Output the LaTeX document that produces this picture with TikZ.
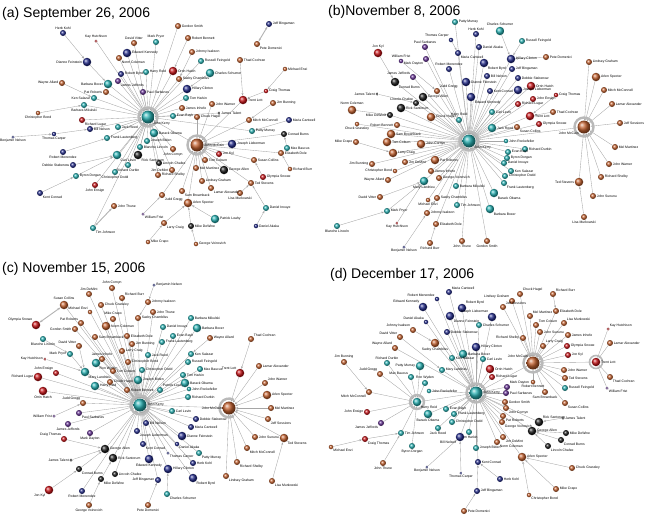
\documentclass[tikz,border=0pt]{standalone}
\usepackage{fontspec}
\setmainfont{Liberation Sans}
\usetikzlibrary{arrows.meta}
\definecolor{senT}{RGB}{40,176,178}
\definecolor{senB}{RGB}{38,46,140}
\definecolor{senO}{RGB}{196,98,48}
\definecolor{senR}{RGB}{200,22,26}
\definecolor{senP}{RGB}{104,52,150}
\definecolor{senK}{RGB}{30,30,30}
\pgfdeclarelayer{bg}
\pgfdeclarelayer{mid}
\pgfsetlayers{bg,mid,main}
\tikzset{
  sen/.style={circle, inner sep=0pt, shading=ball},
  cT/.style={ball color=senT}, cB/.style={ball color=senB},
  cO/.style={ball color=senO}, cR/.style={ball color=senR},
  cP/.style={ball color=senP}, cK/.style={ball color=senK},
  z0/.style={minimum size=3pt}, z1/.style={minimum size=4.5pt},
  z2/.style={minimum size=6pt}, z3/.style={minimum size=8.5pt},
  z4/.style={minimum size=13pt},
  lbl/.style={font=\fontsize{3.4}{4}\selectfont, inner sep=0.4pt, text=black},
  spk/.style={draw=gray!70, line width=0.35pt, -{Stealth[length=2.6pt,width=2pt]}},
  dbl/.style={draw=gray!60, line width=0.9pt, {Stealth[length=3pt,width=2.4pt]}-{Stealth[length=3pt,width=2.4pt]}},
  ring/.style={draw=gray!55, line width=2.4pt},
  title/.style={font=\fontsize{14}{16}\selectfont, anchor=base west, inner sep=0pt}
}
\begin{document}
\begin{tikzpicture}[x=1pt,y=-1pt]
\useasboundingbox (0,0) rectangle (648,520);

% panel titles
\node[title] (ta) at (2,17) {(a) September 26, 2006};
\node[title] (tb) at (328,15) {(b)November 8, 2006};
\node[title] (tc) at (2,272) {(c) November 15, 2006};
\node[title] (td) at (330,278) {(d) December 17, 2006};

% (a) senators
\foreach \nm/\xx/\yy/\col/\sz/\txt/\lp in {
aK/148/117/cT/z4/John Kerry/below right, aM/197/145/cO/z4/John McCain/right,
aHK/63/33/cB/z2/Herb Kohl/above, aKH/96/41/cR/z0/Kay Hutchison/above,
aDV/134/43/cO/z2/David Vitter/above, aMP/156/42/cT/z2/Mark Pryor/above,
aEK/127/53/cB/z3/Edward Kennedy/right, aNC/119/58/cO/z2/Norm Coleman/below right,
aDF/87/62/cB/z3/Dianne Feinstein/left, aHR/146/72/cT/z2/Harry Reid/right,
aRB/121/74/cB/z2/Robert Byrd/right, aBB/108/84/cT/z3/Barbara Boxer/left,
aJJ/118/81/cP/z2/James Jeffords/below right, aWA/62/83/cO/z2/Wayne Allard/left,
aPR/106/92/cO/z2/Pat Roberts/left, aPS/143/92/cP/z2/Paul Sarbanes/right,
aKS/94/98/cT/z2/Ken Salazar/left, aBM/84/105/cT/z2/Barbara Mikulski/below,
aCB/38/113/cO/z1/Christopher Bond/below, aRL/82/120/cR/z2/Richard Lugar/below right,
aBN/13/137/cB/z0/Benjamin Nelson/below, aTC/54/134/cB/z1/Thomas Carper/below,
aBiN/90/129/cB/z2/Bill Nelson/right, aJR/118/127/cT/z2/Jack Reed/right,
aFL/107/138/cT/z2/Frank Lautenberg/right, aBO/154/133/cT/z3/Barack Obama/right,
aJBi/147/141/cT/z2/Joseph Biden/right, aBL/140/147/cT/z2/Blanche Lincoln/right,
aRM/63/152/cB/z2/Robert Menendez/below, aRS/138/155/cK/z3/Rick Santorum/below right,
aCL/117/155/cT/z3/Carl Levin/below right, aDS/73/165/cB/z2/Debbie Stabenow/left,
aRD/128/165/cT/z2/Richard Durbin/below, aCD/115/172/cT/z2/Christopher Dodd/below,
aLC/159/163/cK/z2/Lincoln Chafee/right, aBD/76/176/cT/z2/Byron Dorgan/right,
aJE/95/185/cR/z2/John Ensign/below, aKC/40/193/cB/z2/Kent Conrad/below right,
aJG/162/195/cO/z2/Judd Gregg/below right, aRSh/158/175/cO/z2/Richard Shelby/right,
aJT/114/206/cO/z2/John Thune/right, aTJ/93/228/cT/z2/Tim Johnson/below right,
aWF/143/214/cP/z0/William Frist/below right, aLCr/164/223/cO/z2/Larry Craig/below right,
aMC/148/242/cO/z1/Mike Crapo/right, aGS/178/26/cO/z2/Gordon Smith/right,
aJBn/269/24/cB/z2/Jeff Bingaman/right, aPD/257/44/cO/z2/Pete Domenici/below right,
aRBe/188/38/cO/z2/Robert Bennett/right, aJI/192/52/cO/z2/Johnny Isakson/right,
aRF/201/61/cT/z2/Russell Feingold/right, aCS/210/73/cT/z3/Charles Schumer/right,
aOH/173/71/cR/z3/Orrin Hatch/right, aSC/179/79/cO/z2/Saxby Chambliss/right,
aHC/187/89/cB/z3/Hillary Clinton/right, aTH/186/98/cT/z2/Tom Harkin/right,
aThC/240/60/cO/z2/Thad Cochran/right, aTL/243/100/cR/z3/Trent Lott/right,
aME/285/69/cO/z1/Michael Enzi/right, aCT/266/91/cR/z1/Craig Thomas/right,
aJBu/273/103/cO/z2/Jim Bunning/right, aMM/249/120/cO/z2/Mitch McConnell/right,
aMCa/289/120/cB/z2/Maria Cantwell/right, aJW/212/104/cO/z2/John Warner/right,
aJIn/182/108/cO/z2/James Inhofe/right, aJTa/219/113/cK/z0/James Talent/right,
aEB/173/116/cT/z2/Evan Bayh/right, aCH/197/117/cO/z2/Chuck Hagel/right,
aJL/232/144/cB/z3/Joseph Lieberman/right, aCBu/284/134/cK/z2/Conrad Burns/right,
aPM/252/131/cT/z2/Patty Murray/right, aMB/287/148/cT/z2/Max Baucus/right,
aED/281/153/cO/z2/Elizabeth Dole/right, aRBu/290/169/cO/z1/Richard Burr/right,
aJK/219/154/cR/z2/Jon Kyl/right, aSCo/254/160/cO/z2/Susan Collins/right,
aOS/263/177/cR/z2/Olympia Snowe/right, aTS/251/183/cO/z2/Ted Stevens/right,
aLM/240/193/cO/z2/Lisa Murkowski/below, aDI/266/208/cT/z2/Daniel Inouye/right,
aDA/256/226/cB/z1/Daniel Akaka/right, aGA/224/170/cK/z3/George Allen/right,
aTCo/205/160/cO/z2/Tom Coburn/right, aMMa/196/168/cO/z2/Mel Martinez/right,
aLG/202/181/cO/z2/Lindsey Graham/right, aLA/211/188/cO/z2/Lamar Alexander/below right,
aSB/182/191/cO/z2/Sam Brownback/below right, aAS/188/203/cO/z3/Arlen Specter/right,
aPL/215/219/cT/z3/Patrick Leahy/right, aMD/191/226/cK/z2/Mike DeWine/right,
aGV/196/244/cO/z1/George Voinovich/right, aJCo/173/149/cO/z2/John Cornyn/below,
aJDM/172/170/cO/z2/Jim DeMint/left}
  \node[sen,\col,\sz,label={[lbl]\lp:\txt}] (\nm) at (\xx,\yy) {};

% (b) senators
\foreach \nm/\xx/\yy/\col/\sz/\txt/\lp in {
bK/469/141/cT/z4/John Kerry/below right, bM/584/127/cO/z4/John McCain/below left,
bPM/455/22/cT/z2/Patty Murray/right, bHK/476/34/cB/z2/Herb Kohl/above,
bTC/451/40/cB/z1/Thomas Carper/above left, bDA/479/47/cB/z2/Daniel Akaka/right,
bPS/425/47/cP/z2/Paul Sarbanes/above, bJK/378/53/cR/z3/Jon Kyl/above,
bMC/458/53/cB/z2/Maria Cantwell/below right, bWF/401/61/cP/z1/William Frist/above,
bMD/426/59/cP/z2/Mark Dayton/below left, bRM/449/69/cB/z2/Robert Menendez/above,
bRB/484/63/cB/z3/Robert Byrd/below right, bJJ/413/77/cP/z2/James Jeffords/above left,
bDF/466/82/cB/z3/Dianne Feinstein/right, bBiN/487/76/cB/z2/Bill Nelson/right,
bJG/437/91/cO/z2/Judd Gregg/above right, bKC/490/91/cB/z2/Kent Conrad/right,
bCB/395/82/cK/z3/Conrad Burns/below right, bGA/423/97/cK/z3/George Allen/right,
bEK/471/97/cB/z3/Edward Kennedy/below right, bJT/377/94/cK/z0/James Talent/left,
bLC/416/103/cK/z2/Lincoln Chafee/above left, bRS/401/108/cK/z3/Rick Santorum/right,
bMDW/390/115/cK/z2/Mike DeWine/left, bNC/352/110/cO/z3/Norm Coleman/above,
bCL/492/112/cT/z2/Carl Levin/right, bCH/431/117/cO/z3/Chuck Hagel/right,
bHR/459/120/cT/z2/Harry Reid/above, bRBe/397/125/cO/z2/Robert Bennett/left,
bCG/357/124/cO/z1/Chuck Grassley/below, bJRe/492/128/cT/z3/Jack Reed/right,
bCS/500/31/cT/z3/Charles Schumer/above, bRF/522/41/cT/z2/Russell Feingold/right,
bHC/511/59/cB/z3/Hillary Clinton/right, bPD/546/57/cO/z2/Pete Domenici/right,
bJB/512/69/cB/z2/Jeff Bingaman/right, bDS/518/78/cB/z2/Debbie Stabenow/right,
bOH/531/86/cR/z3/Orrin Hatch/right, bJL/518/90/cB/z3/Joseph Lieberman/right,
bCT/556/95/cR/z1/Craig Thomas/right, bJE/533/99/cR/z2/John Ensign/right,
bRL/518/104/cR/z2/Richard Lugar/right, bTL/530/116/cR/z3/Trent Lott/right,
bTCo/553/112/cO/z2/Thad Cochran/right, bOS/539/124/cR/z2/Olympia Snowe/right,
bLG/589/62/cO/z2/Lindsey Graham/right, bAS/596/77/cO/z3/Arlen Specter/right,
bMM/604/90/cO/z2/Mitch McConnell/right, bLA/612/104/cO/z2/Lamar Alexander/right,
bJS/620/123/cO/z2/Jeff Sessions/right, bSB/391/134/cO/z3/Sam Brownback/right,
bMCr/356/142/cO/z2/Mike Crapo/left, bTCb/387/142/cO/z3/Tom Coburn/right,
bJC/421/144/cO/z3/John Cornyn/right, bLCr/393/153/cO/z3/Larry Craig/right,
bJBu/372/164/cO/z2/Jim Bunning/left, bJD/405/162/cO/z2/Jim DeMint/right,
bPR/435/160/cO/z3/Pat Roberts/right, bCBo/395/171/cO/z1/Christopher Bond/left,
bWA/388/180/cO/z2/Wayne Allard/left, bJIn/431/171/cO/z2/James Inhofe/right,
bML/424/181/cT/z3/Mary Landrieu/below, bGV/439/178/cO/z2/George Voinovich/right,
bDV/380/197/cO/z2/David Vitter/left, bBM/456/186/cT/z2/Barbara Mikulski/right,
bSC/437/198/cO/z2/Saxby Chambliss/right, bME/428/200/cO/z1/Michael Enzi/below,
bTJ/457/205/cT/z2/Tim Johnson/right, bMP/387/211/cT/z2/Mark Pryor/right,
bBL/337/226/cT/z2/Blanche Lincoln/below, bKH/397/223/cR/z0/Kay Hutchison/below,
bJI/427/213/cO/z2/Johnny Isakson/right, bED/436/224/cO/z2/Elizabeth Dole/right,
bBeN/404/247/cB/z0/Benjamin Nelson/below, bRBu/430/243/cO/z2/Richard Burr/below,
bJTh/462/241/cO/z2/John Thune/below, bGS/487/241/cO/z2/Gordon Smith/below,
bBB/490/209/cT/z3/Barbara Boxer/below right, bSCo/517/127/cO/z2/Susan Collins/below right,
bJR/506/141/cT/z1/John Rockefeller/right, bRD/525/149/cT/z2/Richard Durbin/right,
bEB/508/152/cT/z2/Evan Bayh/right, bBD/507/158/cT/z2/Byron Dorgan/right,
bDI/504/163/cT/z2/Daniel Inouye/right, bKS/511/171/cT/z2/Ken Salazar/right,
bCD/505/176/cT/z2/Christopher Dodd/right, bFL/504/183/cT/z2/Frank Lautenberg/below right,
bBO/494/193/cT/z3/Barack Obama/below right, bMMa/615/147/cO/z2/Mel Martinez/right,
bJW/609/164/cO/z2/John Warner/right, bRSh/601/177/cO/z2/Richard Shelby/right,
bTS/579/182/cO/z3/Ted Stevens/left, bJSu/593/196/cO/z2/John Sununu/right,
bLM/584/217/cO/z2/Lisa Murkowski/below}
  \node[sen,\col,\sz,label={[lbl]\lp:\txt}] (\nm) at (\xx,\yy) {};

% (c) senators
\foreach \nm/\xx/\yy/\col/\sz/\txt/\lp in {
cK/140/405/cT/z4/John Kerry/right, cM/229/408/cO/z4/John McCain/left,
cJC/112/288/cO/z2/John Cornyn/above, cJD/89/294/cO/z2/Jim DeMint/above,
cRB/122/298/cO/z2/Richard Burr/above right, cSC/64/305/cO/z3/Susan Collins/above,
cBN/154/285/cB/z0/Benjamin Nelson/right, cJI/148/302/cO/z2/Johnny Isakson/right,
cME/90/312/cO/z1/Michael Enzi/above left, cCG/101/305/cO/z2/Chuck Grassley/right,
cMCr/113/319/cO/z2/Mike Crapo/above, cJT/153/312/cO/z2/John Thune/right,
cOS/36/325/cR/z3/Olympia Snowe/above left, cPR/81/323/cO/z2/Pat Roberts/above left,
cSCh/138/318/cO/z2/Saxby Chambliss/right, cGS/75/329/cO/z2/Gordon Smith/left,
cNC/106/326/cO/z3/Norm Coleman/right, cED/127/336/cO/z2/Elizabeth Dole/right,
cSB/95/337/cO/z2/Sam Brownback/right, cBL/43/339/cT/z2/Blanche Lincoln/below,
cDV/79/346/cO/z2/David Vitter/above left, cJB/132/344/cO/z2/Jim Bunning/right,
cMP/70/354/cT/z2/Mark Pryor/left, cLC/122/351/cO/z2/Larry Craig/right,
cJIn/102/359/cO/z2/James Inhofe/above, cKH/45/359/cR/z0/Kay Hutchison/left,
cJR/148/355/cT/z2/Jack Reed/right, cCB/128/362/cO/z2/Christopher Bond/right,
cRW/96/363/cT/z3/Ron Wyden/below right, cJE/56/373/cR/z2/John Ensign/above left,
cML/85/372/cT/z3/Mary Landrieu/below right, cTC/113/371/cO/z2/Tom Coburn/right,
cCD/142/370/cT/z2/Christopher Dodd/right, cJBi/138/380/cT/z3/Joseph Biden/right,
cRL/38/377/cR/z3/Richard Lugar/left, cHR/95/386/cT/z3/Harry Reid/right,
cCH/110/382/cO/z2/Chuck Hagel/right, cOH/43/391/cR/z3/Orrin Hatch/below,
cRBe/127/390/cO/z2/Robert Bennett/right, cPL/160/390/cT/z2/Patrick Leahy/above right,
cJG/83/403/cO/z2/Judd Gregg/above left, cWF/54/416/cP/z0/William Frist/left,
cPS/79/413/cP/z2/Paul Sarbanes/below right, cJJ/68/424/cP/z2/James Jeffords/below,
cMD/90/433/cP/z2/Mark Dayton/below, cBiN/146/423/cB/z2/Bill Nelson/right,
cJL/137/431/cB/z2/Joseph Lieberman/below right, cCT/64/439/cR/z2/Craig Thomas/above left,
cKC/143/444/cB/z2/Kent Conrad/below right, cGA/105/449/cK/z3/George Allen/right,
cJTa/71/460/cK/z0/James Talent/left, cRS/113/458/cK/z3/Rick Santorum/right,
cEK/149/459/cB/z3/Edward Kennedy/below, cCBu/79/469/cK/z2/Conrad Burns/below right,
cLCh/115/474/cK/z2/Lincoln Chafee/right, cMDW/101/479/cK/z2/Mike DeWine/below right,
cJBn/158/480/cB/z2/Jeff Bingaman/left, cJK/49/490/cR/z3/Jon Kyl/below left,
cRM/82/491/cB/z2/Robert Menendez/below, cGV/89/505/cO/z2/George Voinovich/below,
cPD/148/505/cO/z2/Pete Domenici/below, cBM/191/318/cT/z2/Barbara Mikulski/right,
cDI/163/327/cT/z2/Daniel Inouye/right, cBBo/197/328/cT/z3/Barbara Boxer/right,
cWA/210/338/cO/z2/Wayne Allard/right, cThC/251/339/cO/z2/Thad Cochran/above right,
cEB/173/336/cT/z2/Evan Bayh/right, cFL/162/342/cT/z2/Frank Lautenberg/right,
cKS/191/354/cT/z2/Ken Salazar/right, cRF/188/362/cT/z2/Russell Feingold/right,
cLA/259/366/cO/z2/Lamar Alexander/right, cTL/240/373/cR/z3/Trent Lott/above left,
cMB/200/369/cT/z2/Max Baucus/right, cTH/183/375/cT/z2/Tom Harkin/right,
cBO/185/383/cT/z3/Barack Obama/right, cJW/265/383/cO/z2/John Warner/above right,
cJRo/189/389/cT/z1/John Rockefeller/right, cAS/267/395/cO/z3/Arlen Specter/right,
cRD/188/397/cT/z2/Richard Durbin/right, cMM/271/408/cO/z2/Mel Martinez/right,
cCL/172/411/cT/z2/Carl Levin/right, cJS/268/419/cO/z2/Jeff Sessions/below right,
cDS/196/419/cB/z2/Debbie Stabenow/right, cMC/191/427/cB/z2/Maria Cantwell/right,
cDF/182/436/cB/z3/Dianne Feinstein/right, cJSu/255/437/cO/z2/John Sununu/right,
cTS/284/438/cO/z3/Ted Stevens/below right, cDA/177/444/cB/z1/Daniel Akaka/below right,
cMMc/247/448/cO/z2/Mitch McConnell/below right, cTCa/168/453/cB/z0/Thomas Carper/below right,
cPM/199/453/cT/z2/Patty Murray/below right, cHK/193/463/cB/z2/Herb Kohl/right,
cRSh/237/462/cO/z2/Richard Shelby/below right, cHC/168/469/cB/z3/Hillary Clinton/right,
cRBy/193/478/cB/z3/Robert Byrd/below right, cLG/226/476/cO/z2/Lindsey Graham/below right,
cLM/272/481/cO/z2/Lisa Murkowski/below right, cCS/167/494/cT/z2/Charles Schumer/below right}
  \node[sen,\col,\sz,label={[lbl]\lp:\txt}] (\nm) at (\xx,\yy) {};

% (d) senators
\foreach \nm/\xx/\yy/\col/\sz/\txt/\lp in {
dK/476/393/cT/z4/John Kerry/right, dM/533/363/cO/z4/John McCain/above left,
dHR/417/402/cT/z3/Harry Reid/below right,
dMC/449/292/cB/z2/Maria Cantwell/above right, dRM/437/299/cB/z1/Robert Menendez/above left,
dEK/423/307/cB/z3/Edward Kennedy/above left, dRB/462/308/cB/z3/Robert Byrd/above right,
dDA/426/322/cB/z1/Daniel Akaka/above left, dDF/450/316/cB/z3/Dianne Feinstein/below right,
dJL/492/317/cB/z3/Joseph Lieberman/above left, dCS/479/325/cT/z2/Charles Schumer/right,
dJI/413/330/cO/z2/Johnny Isakson/above left, dDS/447/332/cB/z2/Debbie Stabenow/right,
dDV/400/337/cO/z2/David Vitter/above left, dSC/435/343/cO/z3/Saxby Chambliss/below,
dHC/476/347/cB/z3/Hillary Clinton/right, dWA/395/348/cO/z2/Wayne Allard/above left,
dJB/344/362/cO/z2/Jim Bunning/above, dRD/387/363/cT/z2/Richard Durbin/above,
dPM/420/366/cT/z3/Patty Murray/left, dBB/463/354/cT/z3/Barbara Boxer/right,
dKS/452/358/cT/z2/Ken Salazar/right, dML/442/370/cT/z2/Mary Landrieu/right,
dJG/380/374/cO/z2/Judd Gregg/above left, dMB/411/377/cT/z2/Max Baucus/above left,
dRW/425/383/cT/z2/Ron Wyden/above, dJR/429/391/cT/z1/John Rockefeller/right,
dMMc/369/392/cO/z2/Mitch McConnell/below left, dBO/428/414/cT/z3/Barack Obama/below,
dEB/446/409/cT/z2/Evan Bayh/right, dFL/454/414/cT/z2/Frank Lautenberg/right,
dJE/367/412/cR/z2/John Ensign/left, dJJ/381/423/cP/z2/James Jeffords/below left,
dTJ/401/433/cT/z2/Tim Johnson/right, dCD/452/422/cT/z2/Christopher Dodd/right,
dJRe/438/428/cT/z2/Jack Reed/below, dTH/469/432/cT/z2/Tom Harkin/below,
dBN/460/437/cB/z3/Bill Nelson/below left, dCT/365/439/cR/z2/Craig Thomas/below right,
dME/331/447/cO/z1/Michael Enzi/below right, dBD/412/446/cT/z2/Byron Dorgan/below,
dJBi/476/448/cT/z2/Joseph Biden/right, dJT/383/463/cO/z2/John Thune/below,
dKC/478/462/cB/z2/Kent Conrad/right, dBeN/427/467/cB/z0/Benjamin Nelson/below,
dTC/461/473/cB/z0/Thomas Carper/below, dJBn/477/491/cB/z2/Jeff Bingaman/right,
dPD/464/511/cO/z2/Pete Domenici/right, dLG/512/301/cO/z2/Lindsey Graham/above left,
dCH/520/294/cO/z2/Chuck Hagel/above right, dRBu/553/294/cO/z2/Richard Burr/above right,
dJS/503/307/cO/z2/Jeff Sessions/above right, dMM/530/316/cO/z2/Mel Martinez/above right,
dED/556/311/cO/z2/Elizabeth Dole/right, dTCo/536/325/cO/z2/Tom Coburn/above right,
dLM/564/323/cO/z2/Lisa Murkowski/above right, dJSu/540/332/cO/z2/John Sununu/right,
dJIn/568/335/cO/z2/James Inhofe/right, dRS/523/338/cO/z2/Richard Shelby/left,
dLC/543/346/cO/z2/Larry Craig/above right, dOS/567/346/cR/z2/Olympia Snowe/right,
dKH/608/329/cR/z0/Kay Hutchison/above right, dLA/610/343/cO/z2/Lamar Alexander/right,
dJK/568/355/cR/z2/Jon Kyl/right, dTL/596/362/cR/z3/Trent Lott/right,
dCL/483/359/cT/z2/Carl Levin/right, dOH/490/369/cR/z3/Orrin Hatch/right,
dThC/610/377/cO/z2/Thad Cochran/below right, dRL/492/377/cR/z2/Richard Lugar/right,
dJW/564/370/cO/z2/John Warner/right, dTS/565/378/cO/z2/Ted Stevens/right,
dRBe/533/382/cO/z1/Robert Bennett/below, dWF/607/388/cP/z0/William Frist/below right,
dRF/565/388/cT/z2/Russell Feingold/right, dMD/507/387/cP/z2/Mark Dayton/above right,
dPS/506/393/cP/z2/Paul Sarbanes/right, dSB/545/392/cO/z2/Sam Brownback/below,
dSCo/565/403/cO/z2/Susan Collins/below right, dGS/505/402/cO/z2/Gordon Smith/right,
dJC/506/408/cO/z2/John Cornyn/below right, dPR/503/416/cO/z2/Pat Roberts/below right,
dRSa/539/422/cK/z3/Rick Santorum/above right, dJTa/563/418/cK/z0/James Talent/right,
dGV/502/422/cO/z2/George Voinovich/below right, dGA/532/431/cK/z3/George Allen/right,
dMDW/566/433/cK/z2/Mike DeWine/right, dCB/561/440/cK/z2/Conrad Burns/below right,
dLCh/548/446/cK/z2/Lincoln Chafee/below right, dJD/503/437/cO/z2/Jim DeMint/below right,
dNC/497/442/cO/z2/Norm Coleman/below right, dAS/522/457/cO/z3/Arlen Specter/right,
dCG/572/468/cO/z2/Chuck Grassley/right, dHK/500/479/cB/z2/Herb Kohl/right,
dMCr/556/489/cO/z2/Mike Crapo/right, dCBo/529/495/cO/z1/Christopher Bond/below right}
  \node[sen,\col,\sz,label={[lbl]\lp:\txt}] (\nm) at (\xx,\yy) {};

% rings of arrowheads round the hubs
\begin{pgfonlayer}{mid}
\foreach \hb in {aK,aM,bK,bM,cK,dK,dM}
  \draw[ring] (\hb) circle (9.5pt);
\draw[ring] (cM.center) ++(60:9.5pt) arc (60:300:9.5pt);
\draw[ring] (dHR) circle (7pt);
\draw[ring, line width=1.6pt] (dTL) circle (6.5pt);
\end{pgfonlayer}

% cosponsor links
\begin{pgfonlayer}{bg}
\foreach \nm in {aKH,aDV,aMP,aEK,aNC,aHR,aRB,aBB,aJJ,aPR,aPS,aKS,aBM,aRL,aBiN,aJR,aFL,aBO,aJBi,aBL,aRS,aCL,aRD,aCD,aLC,aJE,aTJ,aGS,aOH,aSC,aHC,aTH,aRF,aEB,aJIn,aJTa,aPM,aRSh,aJCo,aJDM,aM}
  \draw[spk] (\nm) -- (aK);
\foreach \nm in {aJW,aJL,aCBu,aED,aJK,aSCo,aTS,aGA,aTCo,aMMa,aLG,aLA,aSB,aAS,aJG,aTL,aMM,aCH}
  \draw[spk] (\nm) -- (aM);
\foreach \fr/\tg in {aHK/aDF,aDF/aBB,aWA/aKS,aCB/aBM,aBN/aTC,aTC/aBiN,aRM/aFL,aDS/aCL,aKC/aBD,aBD/aCL,aWF/aJG,aMC/aLCr,aLCr/aAS,aMD/aAS,aGV/aMD,aPL/aAS,aDA/aDI,aDI/aTS,aLM/aTS,aOS/aSCo,aRBu/aED,aMB/aCBu,aMCa/aPM,aThC/aTL,aME/aCT,aCT/aTL,aJBu/aMM,aRBe/aOH,aJI/aSC,aCS/aHC}
  \draw[spk] (\fr) -- (\tg);
\draw[dbl] (aJT) -- (aTJ);
\draw[dbl] (aJBn) -- (aPD);

\foreach \nm in {bPM,bHK,bDA,bPS,bMC,bMD,bRM,bRB,bJJ,bDF,bBiN,bJG,bKC,bCB,bGA,bEK,bLC,bRS,bMDW,bCL,bCH,bHR,bRBe,bCG,bJRe,bHC,bJB,bDS,bOH,bJL,bJE,bRL,bTL,bOS,bSB,bTCb,bJC,bLCr,bJBu,bJD,bPR,bCBo,bWA,bJIn,bML,bGV,bBM,bSC,bME,bTJ,bED,bJTh,bGS,bBB,bSCo,bJR,bRD,bEB,bBD,bDI,bKS,bCD,bFL,bBO,bM}
  \draw[spk] (\nm) -- (bK);
\foreach \nm in {bLG,bAS,bMM,bLA,bJS,bMMa,bJW,bRSh,bTS,bJSu}
  \draw[spk] (\nm) -- (bM);
\foreach \fr/\tg in {bTC/bMC,bJK/bCB,bWF/bJG,bJT/bLC,bNC/bMDW,bMCr/bLCr,bDV/bML,bBL/bMP,bMP/bML,bKH/bML,bBeN/bJI,bJI/bSC,bRBu/bED,bLM/bTS,bPD/bHC,bCS/bHC,bRF/bHC,bCT/bTL,bTCo/bTL}
  \draw[spk] (\fr) -- (\tg);

\foreach \nm in {cJC,cJD,cRB,cSC,cME,cCG,cMCr,cJT,cPR,cSCh,cGS,cNC,cED,cSB,cJB,cLC,cJIn,cJR,cCB,cRW,cJE,cML,cTC,cCD,cJBi,cRL,cHR,cCH,cOH,cRBe,cPL,cJG,cPS,cJJ,cMD,cBiN,cJL,cKC,cGA,cRS,cEK,cLCh,cJBn,cRM,cBM,cDI,cBBo,cEB,cFL,cKS,cRF,cMB,cTH,cBO,cJRo,cRD,cCL,cDS,cMC,cDF,cDA,cTCa,cPM,cHK,cHC,cRBy,cM}
  \draw[spk] (\nm) -- (cK);
\foreach \nm in {cTL,cLA,cJW,cAS,cMM,cJS,cJSu,cTS,cMMc,cRSh,cLG}
  \draw[spk] (\nm) -- (cM);
\foreach \fr/\tg in {cBL/cMP,cMP/cML,cDV/cML,cKH/cML,cWF/cJG,cCT/cGA,cJTa/cGA,cCBu/cGA,cJK/cCBu,cGV/cMDW,cMDW/cRS,cPD/cJBn,cBN/cJI,cJI/cSCh,cThC/cTL,cLM/cTS,cCS/cHC,cWA/cKS}
  \draw[spk] (\fr) -- (\tg);
\draw[dbl] (cOS) -- (cSC);

\foreach \nm in {dMC,dRM,dEK,dRB,dDA,dDF,dJL,dCS,dDS,dSC,dHC,dWA,dBB,dKS,dML,dJR,dBO,dEB,dFL,dCD,dJRe,dTH,dBN,dJBi,dKC,dHR,dCL,dOH,dRL,dMD,dPS,dGS,dJC,dPR,dGV,dJD,dNC,dAS,dGA,dRSa,dM}
  \draw[spk] (\nm) -- (dK);
\foreach \nm in {dLG,dCH,dJS,dMM,dED,dTCo,dLM,dJSu,dJIn,dRS,dLC,dOS,dJK,dJW,dTS,dRBe,dRF,dSB,dSCo,dTL}
  \draw[spk] (\nm) -- (dM);
\foreach \nm in {dMMc,dRD,dPM,dJG,dMB,dRW,dJE,dJJ,dTJ,dBD}
  \draw[spk] (\nm) -- (dHR);
\foreach \fr/\tg in {dJB/dMMc,dCT/dTJ,dME/dCT,dJT/dTJ,dJI/dSC,dDV/dML,dBeN/dBN,dTC/dBN,dPD/dJBn,dJBn/dKC,dHK/dKC,dKH/dTL,dLA/dTL,dThC/dTL,dWF/dTL,dCG/dAS,dMCr/dAS,dCBo/dAS,dJTa/dRSa,dMDW/dGA,dCB/dGA,dLCh/dGA,dRBu/dED}
  \draw[spk] (\fr) -- (\tg);
\end{pgfonlayer}
\end{tikzpicture}
\end{document}
